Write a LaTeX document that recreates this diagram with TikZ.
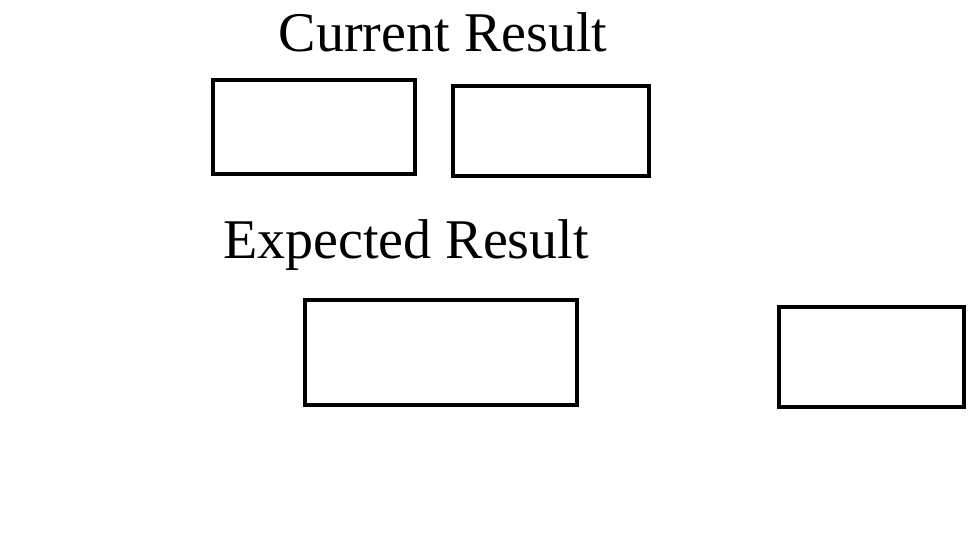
\documentclass[tikz,border=0pt]{standalone}
\usepackage{fontspec}
\setmainfont{Liberation Serif}
\usetikzlibrary{positioning}

\begin{document}
\begin{tikzpicture}[x=0.02cm,y=-0.02cm,
  box/.style={draw,line width=2.3pt,inner sep=0pt},
  title/.style={font=\fontsize{31.9}{38}\selectfont,anchor=base,inner sep=0pt}]
\useasboundingbox (0,0) rectangle (969,559);
% Current Result
\node[title] (curtitle) at (443,51) {Current Result};
\node[box,minimum width=4.04cm,minimum height=1.88cm] (cur1) at (314,127) {};
\node[box,minimum width=3.92cm,minimum height=1.8cm] (cur2) at (551,131) {};
% Expected Result
\node[title] (exptitle) at (406,258) {Expected Result};
\node[box,minimum width=5.44cm,minimum height=2.1cm] (exp1) at (441,352.5) {};
\node[box,minimum width=3.7cm,minimum height=2cm] (exp2) at (871.5,357) {};
\end{tikzpicture}
\end{document}
